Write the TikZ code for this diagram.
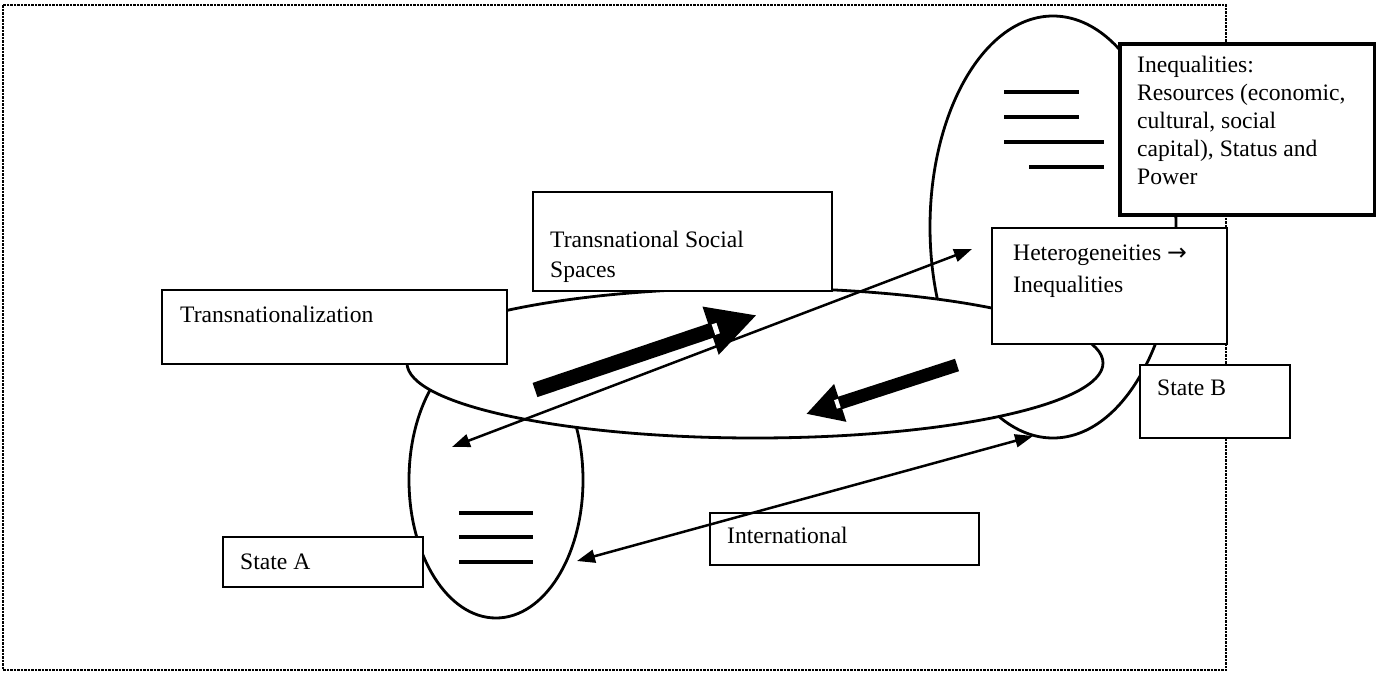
\documentclass[tikz,border=0pt]{standalone}
\usepackage{fontspec}
\setmainfont{Liberation Serif}
\newfontfamily\arrowfont{DejaVu Sans}
\usetikzlibrary{shapes.geometric}
\usetikzlibrary{arrows.meta}
\usetikzlibrary{calc}

\begin{document}
\begin{tikzpicture}[
			x=1pt, y=-1pt,
			font=\fontsize{23.6pt}{27.8pt}\selectfont,
			box/.style={draw, fill=white, line width=2.5pt, inner sep=0pt, outer sep=0pt, anchor=north west},
			txt/.style={anchor=base west, inner sep=0pt, align=left},
			region/.style={draw, fill=white, ellipse, line width=2.8pt, inner sep=0pt},
			hbar/.style={line width=3.2pt},
			twoway/.style={{Triangle[length=18pt,width=13pt]}-{Triangle[length=18pt,width=13pt]}, line width=2.5pt},
			flow/.style={-{Triangle[length=49pt,width=47pt]}, line width=15pt},
			notch/.style={white, line width=11pt}
			]
			\useasboundingbox (0,0) rectangle (1376,673);
			% Frame
			\draw[line width=2.8pt, dash pattern=on 2.5pt off 1pt] (3,5) rectangle (1226,670);
			
			% State B and State A
			\node[region, minimum width=246pt, minimum height=422pt] (ellB) at (1053,227) {};
			\draw[hbar] (1004,92) -- (1079,92);
			\draw[hbar] (1004,117) -- (1079,117);
			\draw[hbar] (1004,142) -- (1104,142);
			\draw[hbar] (1029,167) -- (1104,167);
			\node[region, minimum width=174pt, minimum height=276pt] (ellA) at (496,480) {};
			\foreach \y in {513,537,562}
			\draw[hbar] (459,\y) -- (533,\y);
			
			% Transnational space
			\node[region, minimum width=696pt, minimum height=150pt] (ellT) at (755,363) {};
			
			% Boxes
			\node[box, minimum width=345pt, minimum height=74pt] (tn) at (162,290) {};
			\node[txt] (tnt) at ([xshift=18pt, yshift=-32pt]tn.north west) {Transnationalization};
			\node[box, minimum width=299pt, minimum height=99pt] (tss) at (533,192) {};
			\node[txt] (tsst) at ([xshift=17pt, yshift=-85pt]tss.north west) {Transnational Social\\[2pt] Spaces};
			\node[box, line width=1.5pt, minimum width=235pt, minimum height=116pt] (het) at (992,228) {};
			\node[txt] (hett) at ([xshift=21pt, yshift=-64pt]het.north west) {Heterogeneities {\arrowfont →}\\[4pt] Inequalities};
			\node[box, line width=3.5pt, minimum width=255pt, minimum height=171pt] (ineq) at (1120,44) {};
			\node[txt] (ineqt) at ([xshift=17pt, yshift=-140pt]ineq.north west) {Inequalities:\\ Resources (economic,\\ cultural, social\\ capital), Status and\\ Power};
			\node[box, minimum width=150pt, minimum height=73pt] (stB) at (1140,365) {};
			\node[txt] (stBt) at ([xshift=17pt, yshift=-30pt]stB.north west) {State B};
			\node[box, minimum width=200pt, minimum height=50pt] (stA) at (223,537) {};
			\node[txt] (stAt) at ([xshift=17pt, yshift=-32pt]stA.north west) {State A};
			\node[box, minimum width=269pt, minimum height=52pt] (intl) at (710,513) {};
			\node[txt] (intlt) at ([xshift=17pt, yshift=-30pt]intl.north west) {International};
			
			% Connections
			\coordinate (a1) at (452,447);
			\coordinate (b1) at (972,249);
			\coordinate (a2) at (577,561);
			\coordinate (b2) at (1033,436);
			\draw[twoway] (a1) -- (b1);
			\draw[twoway] (a2) -- (b2);
			
			\coordinate (f1a) at (535,390);
			\coordinate (f1b) at (757,315);
			\coordinate (f2a) at (957,365);
			\coordinate (f2b) at (806,414);
			\draw[flow] (f1a) -- (f1b);
			\draw[flow, line width=13pt, -{Triangle[length=36pt,width=37pt]}] (f2a) -- (f2b);
			\draw[notch] ($(f1b)!41pt!(f1a)$) -- ($(f1b)!46pt!(f1a)$);
			\draw[notch, line width=9pt] ($(f2b)!31pt!(f2a)$) -- ($(f2b)!35pt!(f2a)$);
		\end{tikzpicture}
\end{document}
